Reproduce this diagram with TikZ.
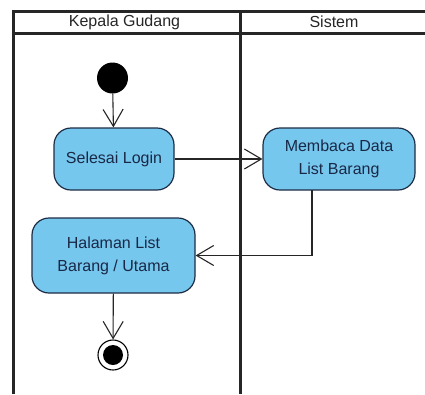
\documentclass[tikz,border=0pt]{standalone}
\usepackage{fontspec}
\setmainfont{Liberation Sans}
\usetikzlibrary{arrows.meta}
\definecolor{actfill}{RGB}{118,199,238}
\definecolor{actline}{RGB}{30,45,70}
\definecolor{acttext}{RGB}{25,40,70}
\begin{document}
\begin{tikzpicture}[x=1pt,y=-1pt,
  lane/.style={line width=3pt,black!85},
  act/.style={draw=actline,line width=1.2pt,fill=actfill,rounded corners=17pt,
    text=acttext,align=center,font=\fontsize{16}{23}\selectfont,inner sep=0pt},
  flow/.style={line width=1.1pt,black!85,-{Straight Barb[length=17pt,width=20pt,line width=1.1pt]}},
  hdr/.style={font=\fontsize{16}{18}\selectfont,text=black!85}]
\useasboundingbox (0,0) rectangle (425,394);
\fill[white] (0,0) rectangle (425,394);
% swimlanes
\draw[lane] (13,394) -- (13,11) -- (425,11);
\draw[lane] (13,33) -- (425,33);
\draw[lane] (240,11) -- (240,394);
\node[hdr] (h1) at (124.5,22) {Kepala Gudang};
\node[hdr] (h2) at (334,22) {Sistem};
% nodes
\node[circle,fill=black,minimum size=31pt,inner sep=0pt] (start) at (112.5,78) {};
\node[act,minimum width=120pt,minimum height=62pt] (login) at (114,159) {Selesai Login};
\node[act,minimum width=152pt,minimum height=62pt] (baca) at (339,159) {Membaca Data\\List Barang};
\node[act,minimum width=163pt,minimum height=75pt] (hal) at (113.5,255.5) {Halaman List\\Barang / Utama};
\node[circle,draw=black,line width=1.1pt,minimum size=30pt,inner sep=0pt] (end) at (113,355) {};
\node[circle,fill=black,minimum size=20pt,inner sep=0pt] (endin) at (end) {};
\coordinate (bout) at (312,190);
% flows
\draw[flow] (start) -- (login);
\draw[flow] (login) -- (baca);
\draw[flow] (bout) |- (hal.east);
\draw[flow] (hal) -- (end);
\end{tikzpicture}
\end{document}
